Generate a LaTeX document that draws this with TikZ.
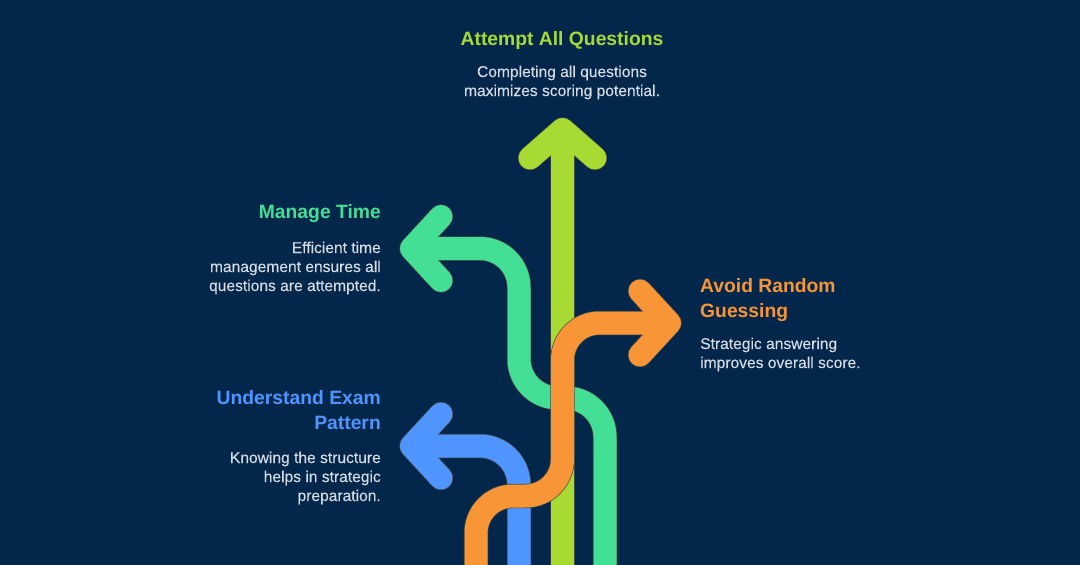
\documentclass[tikz,border=0pt]{standalone}
\usepackage{fontspec}
\setmainfont{Liberation Sans}
\newfontfamily\notefont[FakeBold=0.2]{Liberation Sans}
\definecolor{bgnavy}{HTML}{03274A}
\definecolor{edgeline}{HTML}{4A4A44}
\definecolor{limearrow}{HTML}{A7DB33}
\definecolor{greenarrow}{HTML}{43DF95}
\definecolor{orangearrow}{HTML}{F89536}
\definecolor{bluearrow}{HTML}{4F95FF}
\definecolor{bodytext}{HTML}{D6DBE3}
\tikzset{
  arrowline/.style={line width=23pt, line cap=round, line join=round,
    preaction={draw=edgeline, line width=24.4pt, line cap=round, line join=round}},
  titletext/.style={inner sep=0pt, font=\fontsize{19.3}{25}\bfseries\selectfont},
  bodynote/.style={inner sep=0pt, text=bodytext, font=\notefont\fontsize{15.6}{19}\selectfont}
}
\begin{document}
\begin{tikzpicture}[x=1pt,y=-1pt]
  \useasboundingbox (0,0) rectangle (1080,565);
  \fill[bgnavy] (0,0) rectangle (1080,565);
  % arrow ends and tips
  \coordinate (limebase) at (562.5,572);
  \coordinate (limetip) at (562.5,129.5);
  \coordinate (limeleft) at (530,158);
  \coordinate (limeright) at (595,158);
  \coordinate (bluebase) at (519,572);
  \coordinate (bluetip) at (411.5,446);
  \coordinate (bluetop) at (441,414);
  \coordinate (bluebot) at (441,478);
  \coordinate (greenbase) at (605,572);
  \coordinate (greentip) at (411.5,248.5);
  \coordinate (greentop) at (441,216.5);
  \coordinate (greenbot) at (441,280.5);
  \coordinate (orangebase) at (476,572);
  \coordinate (orangetip) at (669.5,323);
  \coordinate (orangetop) at (640,291);
  \coordinate (orangebot) at (640,355);
  % arrows
  \draw[arrowline, limearrow] (limebase) -- (limetip) (limeleft) -- (limetip) -- (limeright);
  \draw[arrowline, bluearrow] [rounded corners=39pt] (bluebase) |- (bluetip)
    [sharp corners] (bluetop) -- (bluetip) -- (bluebot);
  \draw[arrowline, greenarrow] [rounded corners=39pt] (greenbase) |- (519,398) |- (greentip)
    [sharp corners] (greentop) -- (greentip) -- (greenbot);
  \draw[arrowline, orangearrow] [rounded corners=37pt] (orangebase) |- (562.5,496) |- (orangetip)
    [sharp corners] (orangetop) -- (orangetip) -- (orangebot);
  % labels
  \node[titletext, text=limearrow, anchor=base] (limetitle) at (562,45) {Attempt All Questions};
  \node[bodynote, align=center, anchor=base] (limenote) at (562,96) {Completing all questions\\maximizes scoring potential.};
  \node[titletext, text=greenarrow, anchor=base east] (greentitle) at (381,218) {Manage Time};
  \node[bodynote, align=right, anchor=base east] (greennote) at (381,291) {Efficient time\\management ensures all\\questions are attempted.};
  \node[titletext, text=bluearrow, align=right, anchor=base east] (bluetitle) at (381,429) {Understand Exam\\Pattern};
  \node[bodynote, align=right, anchor=base east] (bluenote) at (381,501) {Knowing the structure\\helps in strategic\\preparation.};
  \node[titletext, text=orangearrow, align=left, anchor=base west] (orangetitle) at (700,317.5) {Avoid Random\\Guessing};
  \node[bodynote, align=left, anchor=base west] (orangenote) at (700,368) {Strategic answering\\improves overall score.};
\end{tikzpicture}
\end{document}
